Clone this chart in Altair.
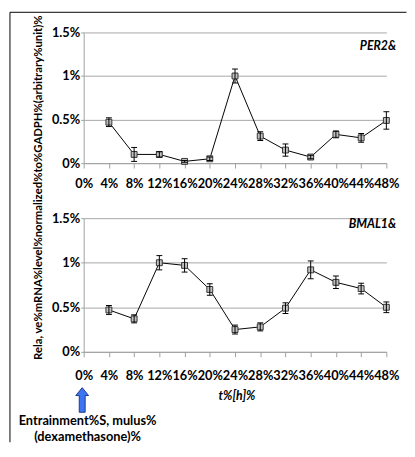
import altair as alt
import pandas as pd

hours = [4, 8, 12, 16, 20, 24, 28, 32, 36, 40, 44, 48]
x_ticks = [0, 4, 8, 12, 16, 20, 24, 28, 32, 36, 40, 44, 48]
y_ticks = [0, 0.5, 1, 1.5]

per2 = [0.47, 0.10, 0.10, 0.02, 0.05, 1.00, 0.31, 0.15, 0.07, 0.33, 0.29, 0.49]
per2_err = [0.05, 0.08, 0.03, 0.01, 0.02, 0.08, 0.05, 0.07, 0.02, 0.04, 0.05, 0.10]
bmal1 = [0.47, 0.37, 1.00, 0.97, 0.70, 0.25, 0.28, 0.49, 0.92, 0.78, 0.71, 0.50]
bmal1_err = [0.05, 0.045, 0.08, 0.075, 0.065, 0.05, 0.045, 0.06, 0.10, 0.07, 0.06, 0.06]

y_title = "Rela, ve%mRNA%level%normalized%to%GADPH%(arbitrary%unit)%"
x_title = "t%[h]%"
stim_line1 = "Entrainment%S, mulus%"
stim_line2 = "(dexamethasone)%"

FONT = "Lato"
one = pd.DataFrame({"a": [0]})


def x_axis(pad):
    return alt.Axis(values=x_ticks, labelExpr="datum.value + '%'", title=None, grid=False,
                    labelOverlap=False, labelFlush=False, tickSize=5, labelPadding=pad,
                    labelFont=FONT, labelFontSize=13, labelFontWeight="bold", labelColor="black")


y_axis = alt.Axis(values=y_ticks, labelExpr="datum.value + '%'", title=None, grid=True,
                  labelOverlap=False, labelFlush=False, tickSize=3, labelPadding=1,
                  labelFont=FONT, labelFontSize=13, labelFontWeight="bold", labelColor="black")
x_scale = alt.Scale(domain=[0, 48], nice=False, zero=False)
y_scale = alt.Scale(domain=[0, 1.5], nice=False)


def panel(values, errs, name, name_y, pad):
    df = pd.DataFrame({"t": hours, "v": values, "err": errs})
    base = alt.Chart(df).transform_calculate(lo="datum.v - datum.err", hi="datum.v + datum.err")
    X = alt.X("t:Q", scale=x_scale, axis=x_axis(pad))
    line = base.mark_line(color="black", strokeWidth=1).encode(
        x=X, y=alt.Y("v:Q", scale=y_scale, axis=y_axis))
    pts = base.mark_square(size=36, fill="#c0c0c0", stroke="#333333", strokeWidth=1, opacity=1).encode(
        x=X, y=alt.Y("v:Q", scale=y_scale, axis=y_axis))
    rules = base.mark_rule(color="black", strokeWidth=1).encode(
        x=X, y=alt.Y("lo:Q", scale=y_scale, axis=y_axis), y2="hi:Q")
    cap_lo = base.mark_tick(orient="horizontal", size=6, thickness=1, color="black", opacity=1).encode(
        x=X, y=alt.Y("lo:Q", scale=y_scale, axis=y_axis))
    cap_hi = base.mark_tick(orient="horizontal", size=6, thickness=1, color="black", opacity=1).encode(
        x=X, y=alt.Y("hi:Q", scale=y_scale, axis=y_axis))
    label = alt.Chart(one).mark_text(font=FONT, fontSize=12.5, fontWeight="bold", fontStyle="italic",
                                     align="right", baseline="middle", color="black").encode(
        x=alt.value(318), y=alt.value(name_y), text=alt.value(name))
    return [line, pts, rules, cap_lo, cap_hi, label]


top_layers = panel(per2, per2_err, "PER2&", 14, 10)
frame_top = alt.Chart(one).mark_rule(color="black", strokeWidth=1).encode(
    x=alt.value(-75), x2=alt.value(328.5), y=alt.value(-20.5))
frame_left = alt.Chart(one).mark_rule(color="black", strokeWidth=1).encode(
    x=alt.value(-75), y=alt.value(-20.5), y2=alt.value(417))
ytitle = alt.Chart(one).mark_text(font=FONT, fontSize=11.5, fontWeight="bold", angle=270,
                                  align="center", baseline="middle", color="black").encode(
    x=alt.value(-45), y=alt.value(158), text=alt.value(y_title))
top = alt.layer(*top_layers, frame_top, frame_left, ytitle).properties(width=308, height=133)

bottom_layers = panel(bmal1, bmal1_err, "BMAL1&", 6, 13)
arrow_path = "M0,-1 L0.52,-0.36 L0.24,-0.36 L0.24,1 L-0.24,1 L-0.24,-0.36 L-0.52,-0.36 Z"
arrow = alt.Chart(one).mark_point(shape=arrow_path, size=625, filled=True, fill="#3d74f2",
                                  stroke="#1d3a8a", strokeWidth=1, opacity=1).encode(
    x=alt.value(-1.5), y=alt.value(185))
xtitle = alt.Chart(one).mark_text(font=FONT, fontSize=12.5, fontWeight="bold", fontStyle="italic",
                                  align="center", baseline="middle", color="black").encode(
    x=alt.value(156), y=alt.value(181.5), text=alt.value(x_title))
stim1 = alt.Chart(one).mark_text(font=FONT, fontSize=13, fontWeight="bold", align="center",
                                 baseline="middle", color="black").encode(
    x=alt.value(4), y=alt.value(206.5), text=alt.value(stim_line1))
stim2 = alt.Chart(one).mark_text(font=FONT, fontSize=13, fontWeight="bold", align="center",
                                 baseline="middle", color="black").encode(
    x=alt.value(4), y=alt.value(222.5), text=alt.value(stim_line2))
bottom = alt.layer(*bottom_layers, arrow, xtitle, stim1, stim2).properties(width=308, height=136)

chart = alt.vconcat(top, bottom, spacing=56, bounds="flush").properties(
    padding={"left": 1, "top": 0, "right": 0, "bottom": 0}
).configure_view(stroke=None).configure_axis(
    domainColor="#a0a0a0", tickColor="#a0a0a0", gridColor="#a6a6a6", domainWidth=1, gridWidth=1
)

chart.save("out.html", embed_options={"renderer": "svg", "actions": False})
